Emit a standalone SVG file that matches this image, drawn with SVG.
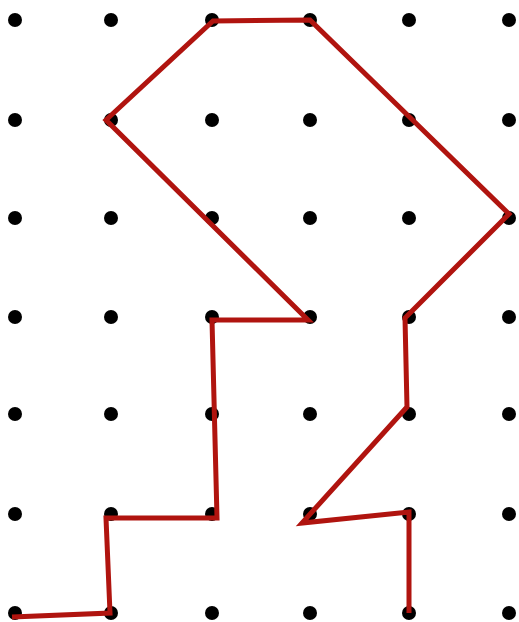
<svg xmlns="http://www.w3.org/2000/svg" width="519" height="622" viewBox="0 0 519 622">
<style>
.dot{fill:#000}
.path{fill:none;stroke:#b0140f;stroke-width:5;stroke-linejoin:miter;stroke-linecap:butt}
</style>
<rect width="519" height="622" fill="#fff"/>
<g id="dots">
<g id="row1"><circle class="dot" cx="15" cy="20" r="7"/><circle class="dot" cx="111" cy="20" r="7"/><circle class="dot" cx="212" cy="20" r="7"/><circle class="dot" cx="310" cy="20" r="7"/><circle class="dot" cx="409" cy="20" r="7"/><circle class="dot" cx="509" cy="20" r="7"/></g>
<g id="row2"><circle class="dot" cx="15" cy="120" r="7"/><circle class="dot" cx="111" cy="120" r="7"/><circle class="dot" cx="212" cy="120" r="7"/><circle class="dot" cx="310" cy="120" r="7"/><circle class="dot" cx="409" cy="120" r="7"/><circle class="dot" cx="509" cy="120" r="7"/></g>
<g id="row3"><circle class="dot" cx="15" cy="218" r="7"/><circle class="dot" cx="111" cy="218" r="7"/><circle class="dot" cx="212" cy="218" r="7"/><circle class="dot" cx="310" cy="218" r="7"/><circle class="dot" cx="409" cy="218" r="7"/><circle class="dot" cx="509" cy="218" r="7"/></g>
<g id="row4"><circle class="dot" cx="15" cy="317" r="7"/><circle class="dot" cx="111" cy="317" r="7"/><circle class="dot" cx="212" cy="317" r="7"/><circle class="dot" cx="310" cy="317" r="7"/><circle class="dot" cx="409" cy="317" r="7"/><circle class="dot" cx="509" cy="317" r="7"/></g>
<g id="row5"><circle class="dot" cx="15" cy="414" r="7"/><circle class="dot" cx="111" cy="414" r="7"/><circle class="dot" cx="212" cy="414" r="7"/><circle class="dot" cx="310" cy="414" r="7"/><circle class="dot" cx="409" cy="414" r="7"/><circle class="dot" cx="509" cy="414" r="7"/></g>
<g id="row6"><circle class="dot" cx="15" cy="514" r="7"/><circle class="dot" cx="111" cy="514" r="7"/><circle class="dot" cx="212" cy="514" r="7"/><circle class="dot" cx="310" cy="514" r="7"/><circle class="dot" cx="409" cy="514" r="7"/><circle class="dot" cx="509" cy="514" r="7"/></g>
<g id="row7"><circle class="dot" cx="15" cy="613" r="7"/><circle class="dot" cx="111" cy="613" r="7"/><circle class="dot" cx="212" cy="613" r="7"/><circle class="dot" cx="310" cy="613" r="7"/><circle class="dot" cx="409" cy="613" r="7"/><circle class="dot" cx="509" cy="613" r="7"/></g>
</g>
<g id="connectors">
<polyline class="path" points="12,617 110,613 106,518 217,518 212,320 308,320 106,120 213,21 310,20 509,214 405,318 407,407 302,523 409,512 409,613"/>
</g>
</svg>
